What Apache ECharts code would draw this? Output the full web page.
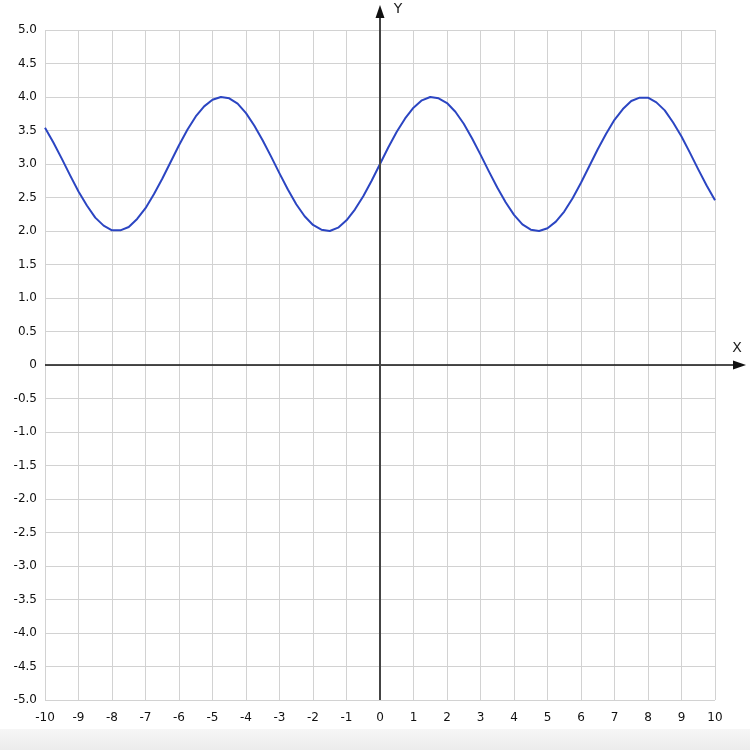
<!DOCTYPE html>
<html>
<head>
<meta charset="utf-8">
<script src="https://cdn.jsdelivr.net/npm/echarts@6/dist/echarts.min.js"></script>
<style>
html,body{margin:0;padding:0;background:#fff;}
#chart{width:750px;height:750px;}
</style>
</head>
<body>
<div id="chart"></div>
<script>
// Data (curve y vs x)
var xValues = [-10,-9.75,-9.5,-9.25,-9,-8.75,-8.5,-8.25,-8,-7.75,-7.5,-7.25,-7,-6.75,-6.5,-6.25,-6,-5.75,-5.5,-5.25,-5,-4.75,-4.5,-4.25,-4,-3.75,-3.5,-3.25,-3,-2.75,-2.5,-2.25,-2,-1.75,-1.5,-1.25,-1,-0.75,-0.5,-0.25,0,0.25,0.5,0.75,1,1.25,1.5,1.75,2,2.25,2.5,2.75,3,3.25,3.5,3.75,4,4.25,4.5,4.75,5,5.25,5.5,5.75,6,6.25,6.5,6.75,7,7.25,7.5,7.75,8,8.25,8.5,8.75,9,9.25,9.5,9.75,10];
var yValues = [3.54,3.32,3.08,2.83,2.59,2.38,2.20,2.08,2.01,2.01,2.06,2.18,2.34,2.55,2.78,3.03,3.28,3.51,3.71,3.86,3.96,4.00,3.98,3.90,3.76,3.57,3.35,3.11,2.86,2.62,2.40,2.22,2.09,2.02,2.00,2.05,2.16,2.32,2.52,2.75,3.00,3.25,3.48,3.68,3.84,3.95,4.00,3.98,3.91,3.78,3.60,3.38,3.14,2.89,2.65,2.43,2.24,2.10,2.02,2.00,2.04,2.14,2.29,2.49,2.72,2.97,3.22,3.45,3.66,3.82,3.94,3.99,3.99,3.92,3.80,3.62,3.41,3.17,2.92,2.68,2.46];
var xTickLabels = ['-10','-9','-8','-7','-6','-5','-4','-3','-2','-1','0','1','2','3','4','5','6','7','8','9','10'];
var yTickLabels = ['-5.0','-4.5','-4.0','-3.5','-3.0','-2.5','-2.0','-1.5','-1.0','-0.5','0','0.5','1.0','1.5','2.0','2.5','3.0','3.5','4.0','4.5','5.0'];
var axisNames = {x: 'X', y: 'Y'};

var points = xValues.map(function (x, i) { return [x, yValues[i]]; });
var chart = echarts.init(document.getElementById('chart'));
var font = 'DejaVu Sans';
var option = {
  animation: false,
  backgroundColor: '#ffffff',
  grid: {left: 45, right: 35, top: 30, bottom: 50, containLabel: false},
  xAxis: {
    type: 'value', min: -10, max: 10, interval: 1,
    axisLine: {show: false, onZero: false},
    axisTick: {show: false},
    splitLine: {show: true, lineStyle: {color: '#d2d2d2', width: 1}},
    axisLabel: {
      margin: 12, fontFamily: font, fontSize: 12, color: '#111',
      formatter: function (v) { return xTickLabels[Math.round(v + 10)]; }
    }
  },
  yAxis: {
    type: 'value', min: -5, max: 5, interval: 0.5,
    axisLine: {show: false, onZero: false},
    axisTick: {show: false},
    splitLine: {show: true, lineStyle: {color: '#d2d2d2', width: 1}},
    axisLabel: {
      margin: 8, fontFamily: font, fontSize: 12, color: '#111',
      formatter: function (v) { return yTickLabels[Math.round(v * 2 + 10)]; }
    }
  },
  series: [{
    type: 'line', data: points, smooth: false, showSymbol: false,
    lineStyle: {color: '#2b45c2', width: 2, join: 'round'}, z: 5
  }]
};
chart.setOption(option);

var o = chart.convertToPixel({gridIndex: 0}, [0, 0]);
var bl = chart.convertToPixel({gridIndex: 0}, [-10, -5]);
var xTip = 746, yTip = 5;
chart.setOption({
  graphic: [
    {type: 'rect', shape: {x: 0, y: 729, width: 750, height: 21}, z: 0,
      style: {fill: new echarts.graphic.LinearGradient(0, 0, 0, 1, [{offset: 0, color: '#f6f6f6'}, {offset: 1, color: '#ececec'}])}},
    {type: 'line', z: 10, shape: {x1: bl[0], y1: o[1], x2: xTip - 8, y2: o[1]}, style: {stroke: '#111', lineWidth: 1.5}},
    {type: 'polygon', z: 10, shape: {points: [[xTip, o[1]], [xTip - 13, o[1] - 4.5], [xTip - 13, o[1] + 4.5]]}, style: {fill: '#111'}},
    {type: 'line', z: 10, shape: {x1: o[0], y1: bl[1], x2: o[0], y2: yTip + 8}, style: {stroke: '#444', lineWidth: 2}},
    {type: 'polygon', z: 10, shape: {points: [[o[0], yTip], [o[0] - 4.5, yTip + 13], [o[0] + 4.5, yTip + 13]]}, style: {fill: '#111'}},
    {type: 'text', z: 10, x: xTip - 9, y: o[1] - 17, style: {text: axisNames.x, font: '14px ' + font, fill: '#222', align: 'center', verticalAlign: 'middle'}},
    {type: 'text', z: 10, x: o[0] + 18, y: 9, style: {text: axisNames.y, font: '14px ' + font, fill: '#222', align: 'center', verticalAlign: 'middle'}}
  ]
});
</script>
</body>
</html>
